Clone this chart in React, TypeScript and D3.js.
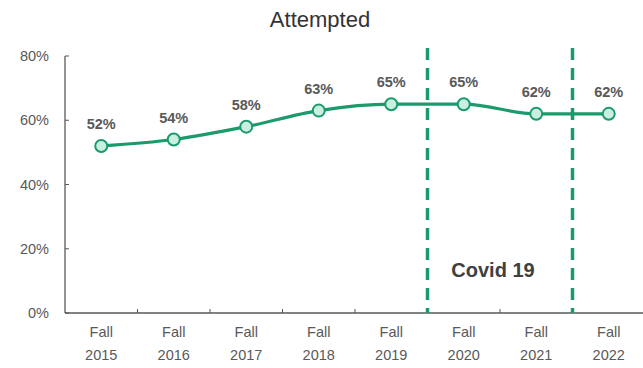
import React from "react";
import * as d3 from "d3";

const categories = ["2015", "2016", "2017", "2018", "2019", "2020", "2021", "2022"];
const values = [52, 54, 58, 63, 65, 65, 62, 62];
const yTicks = [0, 20, 40, 60, 80];
const covidBoundaries = ["2020", "2022"];
const title = "Attempted";
const covidLabel = "Covid 19";

const W = 643;
const H = 368;
const left = 65;
const right = 645;
const top = 56;
const bottom = 313;
const green = "#1b9a6c";
const grey = "#595959";
const font = "'Liberation Sans', Arial, sans-serif";

export default function App() {
  const x = d3.scaleBand<string>().domain(categories).range([left, right]);
  const y = d3.scaleLinear().domain([0, 80]).range([bottom, top]);
  const cx = (c: string) => (x(c) as number) + x.bandwidth() / 2;

  const line = d3
    .line<number>()
    .x((_, i) => cx(categories[i]))
    .y((v) => y(v))
    .curve(d3.curveMonotoneX);

  const boundaries = [left, ...categories.map((c) => (x(c) as number) + x.bandwidth())];

  return (
    <svg
      width={W}
      height={H}
      style={{ position: "absolute", left: 0, top: 0, background: "#fff" }}
      fontFamily={font}
    >
      <text x={320} y={27} textAnchor="middle" fontSize={22} fill="#333">
        {title}
      </text>

      {/* axes */}
      <line x1={left} x2={left} y1={top} y2={bottom} stroke={grey} strokeWidth={1.3} />
      <line x1={left} x2={right} y1={bottom} y2={bottom} stroke={grey} strokeWidth={1.3} />
      {yTicks.map((t) => (
        <g key={t}>
          <line x1={left} x2={left + 4} y1={y(t)} y2={y(t)} stroke={grey} strokeWidth={1} />
          <text x={49} y={y(t) + 5} textAnchor="end" fontSize={14.5} fill={grey}>
            {t}%
          </text>
        </g>
      ))}
      {boundaries.slice(1, -1).map((b, i) => (
        <line key={i} x1={b} x2={b} y1={bottom} y2={bottom - 4} stroke={grey} strokeWidth={1} />
      ))}
      {categories.map((c) => (
        <text key={c} x={cx(c)} textAnchor="middle" fontSize={14.5} fill={grey}>
          <tspan x={cx(c)} y={337}>Fall</tspan>
          <tspan x={cx(c)} y={360}>{c}</tspan>
        </text>
      ))}

      {/* Covid period markers */}
      {covidBoundaries.map((c) => {
        const bx = x(c) as number;
        return (
          <line
            key={c}
            x1={bx}
            x2={bx}
            y1={48}
            y2={bottom}
            stroke={green}
            strokeWidth={3.5}
            strokeDasharray="12 8"
          />
        );
      })}
      <text
        x={((x("2020") as number) + (x("2022") as number)) / 2 - 7}
        y={277}
        textAnchor="middle"
        fontSize={20}
        fontWeight="bold"
        fill="#404040"
      >
        {covidLabel}
      </text>

      {/* series */}
      <path d={line(values) || ""} fill="none" stroke={green} strokeWidth={3.2} />
      {values.map((v, i) => (
        <g key={i}>
          <circle cx={cx(categories[i])} cy={y(v)} r={6} fill="#c9efe1" stroke={green} strokeWidth={2} />
          <text
            x={cx(categories[i])}
            y={y(v) - 17}
            textAnchor="middle"
            fontSize={14.5}
            fontWeight="bold"
            fill={grey}
          >
            {v}%
          </text>
        </g>
      ))}
    </svg>
  );
}
